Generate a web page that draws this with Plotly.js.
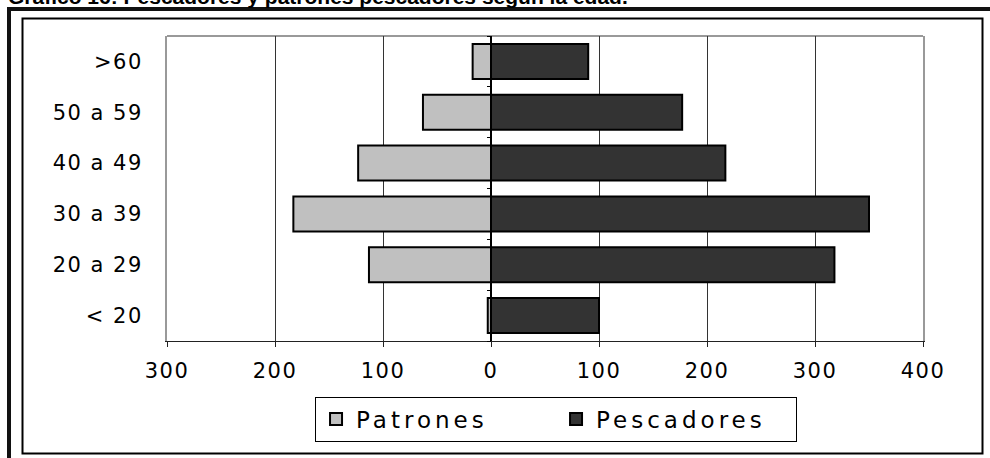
<!DOCTYPE html>
<html><head><meta charset="utf-8">
<script src="https://cdn.plot.ly/plotly-3.0.1.min.js"></script>
<style>
html,body{margin:0;padding:0;background:#fff;}
#chart{width:990px;height:458px;}
.xtick text,.ytick text{letter-spacing:1.5px;}
.legendtext{letter-spacing:4px;}
</style></head><body><div id="chart"></div>
<script>
const categories = ['< 20', '20 a 29', '30 a 39', '40 a 49', '50 a 59', '>60'];
const patrones   = [3, 113, 183, 123, 63, 17];
const pescadores = [100, 318, 350, 217, 177, 90];
const xTickVals  = [-300, -200, -100, 0, 100, 200, 300, 400];
const xTickText  = ['300', '200', '100', '0', '100', '200', '300', '400'];
const titleText  = 'Gráfico 16: Pescadores y patrones pescadores según la edad.';

const traces = [
  {
    type: 'bar', orientation: 'h', name: 'Patrones',
    y: categories, x: patrones.map(v => -v), customdata: patrones,
    hovertemplate: '%{y}: %{customdata}<extra>Patrones</extra>',
    marker: {color: '#c0c0c0', line: {color: '#000', width: 2}},
    yaxis: 'y'
  },
  {
    type: 'bar', orientation: 'h', name: 'Pescadores',
    y: categories, x: pescadores,
    marker: {color: '#333333', line: {color: '#000', width: 2}},
    yaxis: 'y2'
  }
];

const layout = {
  width: 990, height: 458,
  margin: {l: 167, r: 67, t: 36, b: 117},
  paper_bgcolor: '#fff', plot_bgcolor: '#fff',
  font: {family: 'DejaVu Sans, sans-serif', size: 21, color: '#000'},
  title: {
    text: titleText,
    font: {family: 'Liberation Sans, Arial, sans-serif', size: 21, weight: 'bold', color: '#000'},
    x: 8/990, xanchor: 'left', xref: 'container',
    y: 1 - 4/458, yanchor: 'bottom', yref: 'container'
  },
  barmode: 'relative',
  bargap: 0.31,
  showlegend: true,
  legend: {
    orientation: 'h', x: 0.5146, xanchor: 'center', y: -0.182, yanchor: 'top',
    bordercolor: '#000', borderwidth: 1, bgcolor: '#fff',
    font: {size: 23}, traceorder: 'normal', entrywidth: 195
  },
  xaxis: {
    range: [-300, 400], tickvals: xTickVals, ticktext: xTickText,
    showgrid: true, gridcolor: '#333', gridwidth: 1,
    zeroline: true, zerolinecolor: '#000', zerolinewidth: 1.5,
    showline: true, linecolor: '#222', linewidth: 1,
    ticks: 'outside', ticklen: 5, tickcolor: '#222', tickwidth: 1,
    ticklabelstandoff: 6, fixedrange: true
  },
  yaxis: {
    type: 'category', categoryorder: 'array', categoryarray: categories,
    range: [-0.5, 5.5], showgrid: false, zeroline: false,
    showline: true, mirror: true, linecolor: '#999', linewidth: 2,
    ticks: '', ticklabelstandoff: 18, fixedrange: true
  },
  yaxis2: {
    type: 'category', categoryorder: 'array', categoryarray: categories,
    range: [-0.5, 5.5], overlaying: 'y', anchor: 'free', position: 300/700, side: 'left',
    showgrid: false, zeroline: false, showline: false, showticklabels: false,
    ticks: 'outside', tickson: 'boundaries', ticklen: 4, tickcolor: '#000', tickwidth: 1,
    fixedrange: true
  },
  shapes: [
    {type: 'line', xref: 'paper', yref: 'paper', x0: 0, x1: 1, y0: 1, y1: 1,
     line: {color: '#999', width: 2}, layer: 'below'},
    {type: 'rect', xref: 'paper', yref: 'paper',
     x0: (22.5-167)/756, x1: (982.5-167)/756, y0: (341-453.5)/305, y1: (341-18.5)/305,
     line: {color: '#000', width: 2}, fillcolor: 'rgba(0,0,0,0)', layer: 'below'},
    {type: 'line', xref: 'paper', yref: 'paper', x0: (9-167)/756, x1: (9-167)/756,
     y0: (341-9)/305, y1: (341-520)/305, line: {color: '#111', width: 4}, layer: 'below'},
    {type: 'line', xref: 'paper', yref: 'paper', x0: (7-167)/756, x1: (1100-167)/756,
     y0: (341-9)/305, y1: (341-9)/305, line: {color: '#111', width: 4}, layer: 'below'}
  ]
};

Plotly.newPlot('chart', traces, layout, {displayModeBar: false, staticPlot: true});
</script></body></html>
